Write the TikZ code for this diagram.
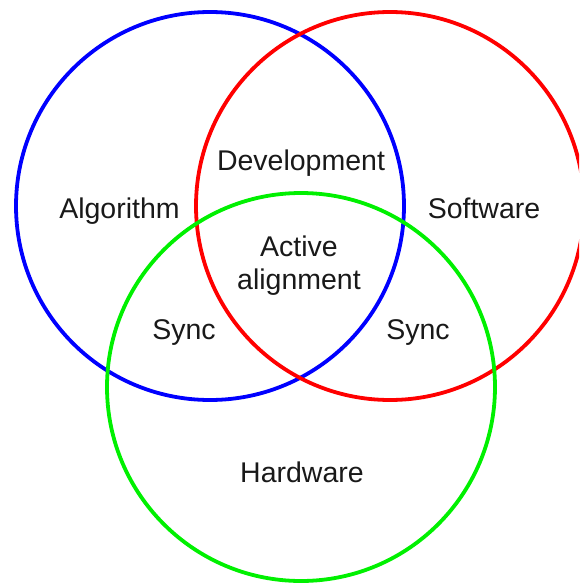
\documentclass[tikz,border=0pt]{standalone}
\usepackage{fontspec}
\setmainfont{Liberation Sans}
\begin{document}
\begin{tikzpicture}[x=1pt,y=-1pt,
  ring/.style={line width=3.8pt},
  lbl/.style={anchor=base,inner sep=0pt,text=black!90,font=\fontsize{28.5}{34}\selectfont}]
  \useasboundingbox (0,0) rectangle (579,584);
  \clip (0,0) rectangle (579,584);
  % the three sets
  \draw[ring,draw={rgb,255:red,0;green,0;blue,255}] (210,206) circle[radius=194];
  \draw[ring,draw={rgb,255:red,255;green,0;blue,0}] (390,206) circle[radius=194];
  \draw[ring,draw={rgb,255:red,0;green,240;blue,0}] (301,387) circle[radius=194];
  % region labels
  \node[lbl] (alg) at (119.5,218) {Algorithm};
  \node[lbl] (soft) at (484,218) {Software};
  \node[lbl] (dev) at (301,170) {Development};
  \node[lbl] (act) at (299,256) {Active};
  \node[lbl] (ali) at (299,289) {alignment};
  \node[lbl] (syncl) at (184,339) {Sync};
  \node[lbl] (syncr) at (418,339) {Sync};
  \node[lbl] (hw) at (302,482) {Hardware};
\end{tikzpicture}
\end{document}
